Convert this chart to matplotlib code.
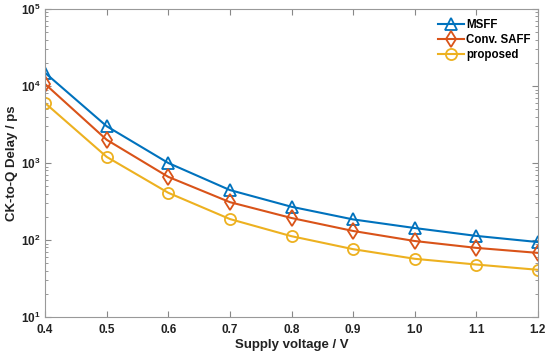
import matplotlib
matplotlib.use("Agg")
import matplotlib.pyplot as plt
from matplotlib.ticker import LogLocator, FixedLocator

plt.rcParams["font.family"] = ["Liberation Sans", "DejaVu Sans"]
plt.rcParams["font.weight"] = "bold"

voltage = [0.4, 0.5, 0.6, 0.7, 0.8, 0.9, 1.0, 1.1, 1.2]
msff = [14800, 3000, 1000, 445, 270, 185, 143, 113, 94]
conv_saff = [10600, 2000, 660, 310, 193, 131, 97, 79, 68]
proposed = [6000, 1200, 410, 187, 112, 76, 57, 48, 41]

series = [
    ("MSFF", msff, "#0072BD", "^"),
    ("Conv. SAFF", conv_saff, "#D95319", "d"),
    ("proposed", proposed, "#EDB120", "o"),
]

fig = plt.figure(figsize=(5.5, 3.59), dpi=100)
ax = fig.add_axes([0.082, 0.117, 0.896, 0.858])

for name, vals, color, marker in series:
    ax.plot(voltage, vals, color=color, lw=1.5, marker=marker, ms=8,
            mfc="none", mec=color, mew=1.3, label=name)

ax.set_yscale("log")
ax.set_xlim(0.4, 1.2)
ax.set_ylim(10, 1e5)
ax.xaxis.set_major_locator(FixedLocator(voltage))
ax.set_xticklabels([f"{v:.1f}" for v in voltage])
ax.yaxis.set_major_locator(LogLocator(base=10, numticks=10))
ax.yaxis.set_minor_locator(LogLocator(base=10, subs=range(2, 10), numticks=20))

ax.tick_params(which="both", direction="in", top=True, right=True,
               color="#888888", labelsize=8.5, labelcolor="#222222")
ax.tick_params(which="major", length=4)
ax.tick_params(axis="x", pad=5)
ax.tick_params(which="minor", length=2)
for sp in ax.spines.values():
    sp.set_color("#999999")
    sp.set_linewidth(0.8)

ax.set_xlabel("Supply voltage / V", fontsize=9.5, fontweight="bold", color="#222222", labelpad=2)
ax.set_ylabel("CK-to-Q Delay / ps", fontsize=9.5, fontweight="bold", color="#222222", labelpad=2)

ax.legend(loc="upper right", frameon=False, fontsize=8.3, handlelength=2.3,
          handletextpad=0.2, labelspacing=0.25, borderaxespad=0.2,
          bbox_to_anchor=(1.0, 0.99))

fig.savefig("out.png", dpi=100)
